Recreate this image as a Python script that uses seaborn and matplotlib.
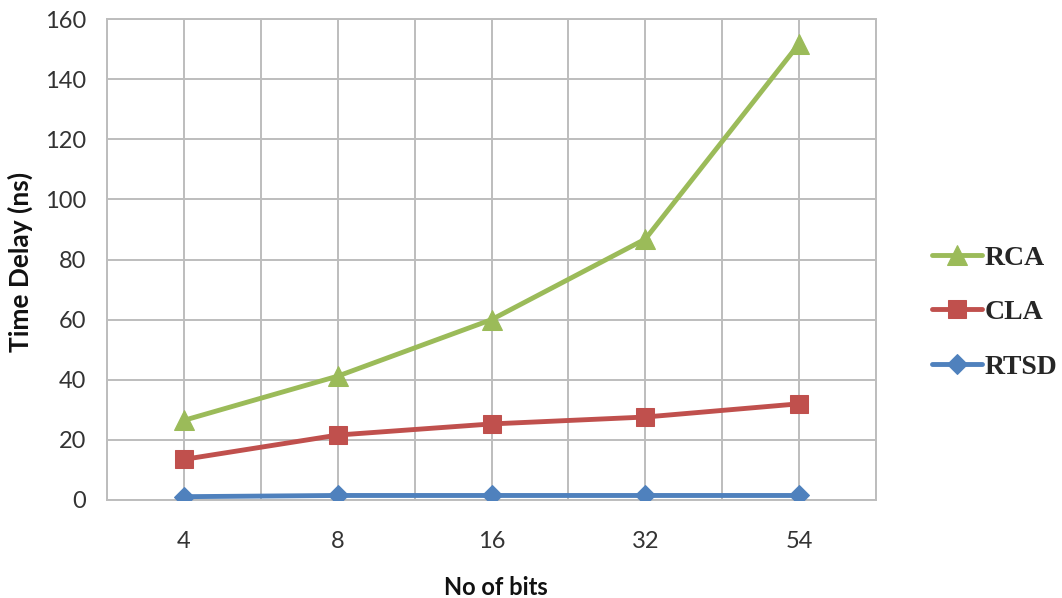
import numpy as np
import pandas as pd
import seaborn as sns
import matplotlib
matplotlib.use("Agg")
import matplotlib.pyplot as plt

bits = ["4", "8", "16", "32", "54"]
rca = [26.5, 41.2, 60.0, 86.8, 151.8]
cla = [13.5, 21.6, 25.3, 27.6, 32.0]
rtsd = [1.1, 1.5, 1.5, 1.5, 1.5]

series_names = ["RTSD", "CLA", "RCA"]
series_vals = [rtsd, cla, rca]
colors = {"RCA": "#9BBB59", "CLA": "#C0504D", "RTSD": "#4F81BD"}
markers = {"RCA": "^", "CLA": "s", "RTSD": "D"}
msizes = {"RCA": 14, "CLA": 13, "RTSD": 10}

rows = []
for name, vals in zip(series_names, series_vals):
    for i, v in enumerate(vals):
        rows.append({"pos": i, "bits": bits[i], "series": name, "delay": v})
df = pd.DataFrame(rows)

sns.set_style("white")
plt.rcParams["font.family"] = ["Lato", "DejaVu Sans"]

fig = plt.figure(figsize=(10.62, 5.98), dpi=100)
ax = fig.add_axes([0.1008, 0.1639, 0.7241, 0.8043])

for name in series_names:
    sub = df[df["series"] == name]
    sns.lineplot(data=sub, x="pos", y="delay", ax=ax, color=colors[name],
                 marker=markers[name], markersize=msizes[name], linewidth=3.5,
                 markeredgecolor=colors[name], label=name, zorder=3)

ax.set_xlim(-0.5, 4.5)
ax.set_ylim(0, 160)
ax.set_yticks(np.arange(0, 161, 20))
ax.set_xticks(range(len(bits)))
ax.set_xticklabels(bits)
ax.set_xticks(np.arange(-0.5, 4.6, 1.0), minor=True)

grid_c = "#BDBDBD"
ax.grid(True, which="both", color=grid_c, linewidth=1.4)
ax.tick_params(axis="x", which="major", length=0, pad=22, labelsize=17, labelcolor="#333333")
ax.tick_params(axis="x", which="minor", length=10, width=1.4, color=grid_c)
ax.tick_params(axis="y", length=7, width=1.4, color=grid_c, pad=8, labelsize=17, labelcolor="#333333")
for s in ax.spines.values():
    s.set_color(grid_c)
    s.set_linewidth(1.4)

ax.set_xlabel("No of bits", fontsize=17, fontweight="bold", color="#111111")
ax.set_ylabel("Time Delay (ns)", fontsize=19, fontweight="bold", color="#111111")
ax.yaxis.set_label_coords(-0.096, 0.495)
ax.xaxis.set_label_coords(0.505, -0.158)

h, l = ax.get_legend_handles_labels()
order = [l.index(n) for n in ["RCA", "CLA", "RTSD"]]
leg = ax.legend([h[i] for i in order], [l[i] for i in order],
                loc="center left", bbox_to_anchor=(1.04, 0.39), frameon=False,
                prop={"family": "Liberation Serif", "weight": "bold", "size": 20},
                handlelength=1.8, handletextpad=0.1, labelspacing=1.05)

fig.savefig("out.png", dpi=100)
